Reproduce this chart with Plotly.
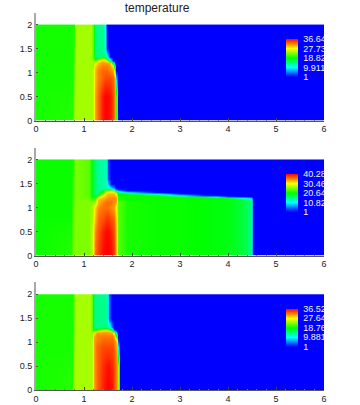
import plotly.graph_objects as go

# panel 1
xs1 = [0, .76, .79, .82, 1.14, 1.19, 1.23, 1.30, 1.38, 1.44, 1.48, 1.54, 1.60, 1.64, 1.67, 1.70, 6]
ys1 = [0, .5, .9, 1.05, 1.15, 1.2, 1.25, 1.3, 1.34, 1.5, 1.999, 2]
z1 = [
    [19.5, 20, 24.5, 24.5, 24.5, 25, 31, 33, 35.5, 36.6, 36.6, 36, 34, 31, 20, 1, 1],
    [19.5, 19.8, 23.5, 24.5, 24.5, 25, 31, 33, 35.5, 36.6, 36.6, 36, 34, 31, 22, 1, 1],
    [19.5, 19.5, 22.5, 24.5, 24.5, 25, 30, 32, 33, 34, 34, 34, 33, 30, 8, 1, 1],
    [19.5, 19.5, 22, 24.5, 24.5, 25, 30, 32, 33, 33, 33, 32, 31, 22, 1, 1, 1],
    [19.5, 19.5, 22, 24.5, 24.5, 24, 29, 31, 32, 32, 32, 31, 28, 8, 1, 1, 1],
    [19.5, 19.5, 22, 24.5, 24.5, 24, 27, 30, 31, 31, 31, 30, 14, 1, 1, 1, 1],
    [19.5, 19.5, 21.5, 24.5, 24.5, 24, 22, 27, 30, 29, 26, 12, 1, 1, 1, 1, 1],
    [19.5, 19.5, 21.5, 24.5, 24.5, 22, 18, 20, 27, 24, 17, 8, 1, 1, 1, 1, 1],
    [19.5, 19.5, 21.5, 24.5, 24.5, 22, 15, 14, 15, 14, 11, 1, 1, 1, 1, 1, 1],
    [19.5, 19.5, 21, 24.5, 24.5, 22, 14, 14, 14, 12, 1, 1, 1, 1, 1, 1, 1],
    [19.5, 19.5, 19.8, 24.5, 24.5, 22, 14, 14, 14, 10, 1, 1, 1, 1, 1, 1, 1],
    [19.5, 19.5, 19.8, 24.5, 24.5, 22, 14, 14, 14, 10, 1, 1, 1, 1, 1, 1, 1],
]
ticks1 = [1, 9.911, 18.82, 27.73, 36.64]
labels1 = ["1", "9.911", "18.82", "27.73", "36.64"]

# panel 2
xs2 = [0, .72, .77, .82, 1.1, 1.16, 1.22, 1.3, 1.4, 1.46, 1.5, 1.56, 1.62, 1.66, 1.70, 1.9, 2.5, 3, 3.5, 4, 4.3, 4.48, 4.53, 6]
ys2 = [0, .5, .8, 1.0, 1.12, 1.17, 1.2, 1.23, 1.26, 1.29, 1.32, 1.35, 1.38, 1.42, 1.5, 1.6, 1.999, 2]
z2 = [
    [21, 22, 25.5, 25.5, 25.5, 28, 36, 38, 40, 40.3, 40.3, 40, 38, 33, 24, 21.5, 21, 21, 20.5, 20, 18.5, 16, 1, 1],
    [21, 21.5, 25, 25.5, 25.5, 28, 35, 37, 39, 40, 40, 39, 37, 33, 24, 21.5, 21, 21, 20.5, 20, 18.5, 16, 1, 1],
    [21, 21, 24.5, 25.5, 25.5, 27, 33, 36, 37, 38, 38, 37, 36, 32, 24, 21.5, 21, 21, 20.5, 20, 18.5, 16, 1, 1],
    [21, 21, 24, 25.5, 25.5, 27, 32, 35, 36, 36, 36, 35, 34, 30, 24, 21.5, 21, 21, 20.5, 20, 18.5, 16, 1, 1],
    [21, 21, 23.5, 25.5, 25.5, 25, 27, 33, 35, 36, 36, 36, 35, 34, 24, 21.5, 21, 21, 20.5, 20, 18.5, 16, 1, 1],
    [21, 21, 23.5, 25.5, 25, 23, 24, 33, 34, 35, 35, 35, 35, 34, 22, 21, 21, 21, 20, 20, 18.5, 16, 1, 1],
    [21, 21, 23.5, 25.5, 24.5, 22, 22, 31, 33, 34, 35, 35, 35, 34, 22, 21, 21, 21, 20.5, 20, 12, 8, 1, 1],
    [21, 21, 23.5, 25.5, 24, 21, 20, 28, 32, 33, 34, 34, 34, 33, 22, 21, 21, 21, 19, 4, 1.5, 1, 1, 1],
    [21, 21, 23.5, 25.5, 24, 20, 18, 22, 31, 33, 34, 34, 34, 32, 21, 21, 21, 12, 3, 1, 1, 1, 1, 1],
    [21, 21, 23, 25.5, 24, 20, 16, 17, 28, 32, 33, 33, 33, 30, 21, 20, 12, 2, 1, 1, 1, 1, 1, 1],
    [21, 21, 23, 25.5, 24, 20, 16, 15, 24, 30, 32, 32, 31, 26, 18, 12, 2, 1, 1, 1, 1, 1, 1, 1],
    [21, 21, 23, 25.5, 24, 20, 16, 15, 19, 26, 28, 28, 26, 12, 8, 2, 1, 1, 1, 1, 1, 1, 1, 1],
    [21, 21, 23, 25.5, 24, 20, 16, 15, 15, 17, 18, 17, 12, 6, 3, 1, 1, 1, 1, 1, 1, 1, 1, 1],
    [21, 21, 23, 25.5, 24, 20, 16, 15, 14, 14, 13, 9, 5, 1, 1, 1, 1, 1, 1, 1, 1, 1, 1, 1],
    [21, 21, 23, 25.5, 24, 20, 16, 15, 14, 14, 8, 1, 1, 1, 1, 1, 1, 1, 1, 1, 1, 1, 1, 1],
    [21, 21, 22.5, 25.5, 24, 20, 16, 15, 14, 13, 4, 1, 1, 1, 1, 1, 1, 1, 1, 1, 1, 1, 1, 1],
    [21, 21, 21.5, 25.5, 24, 20, 16, 15, 14, 14, 3, 1, 1, 1, 1, 1, 1, 1, 1, 1, 1, 1, 1, 1],
    [21, 21, 21.5, 25.5, 24, 20, 16, 15, 14, 14, 3, 1, 1, 1, 1, 1, 1, 1, 1, 1, 1, 1, 1, 1],
]
ticks2 = [1, 10.82, 20.64, 30.46, 40.28]
labels2 = ["1", "10.82", "20.64", "30.46", "40.28"]

# panel 3
xs3 = [0, .75, .78, .82, 1.12, 1.17, 1.21, 1.28, 1.4, 1.48, 1.52, 1.58, 1.63, 1.68, 1.71, 1.74, 6]
ys3 = [0, .5, .9, 1.05, 1.15, 1.2, 1.24, 1.28, 1.32, 1.5, 1.999, 2]
z3 = [
    [19.5, 20, 24.5, 24.5, 24.5, 25, 31, 33, 35.5, 36.5, 36.5, 36, 34, 31, 24, 1, 1],
    [19.5, 19.8, 23.5, 24.5, 24.5, 25, 31, 33, 35, 36, 36, 35, 34, 31, 24, 1, 1],
    [19.5, 19.5, 22.5, 24.5, 24.5, 25, 31, 33, 34, 34, 34, 34, 33, 30, 10, 1, 1],
    [19.5, 19.5, 22, 24.5, 24.5, 25, 31, 32, 33, 33, 33, 33, 32, 28, 3, 1, 1],
    [19.5, 19.5, 22, 24.5, 24.5, 24, 30, 32, 32, 32, 32, 32, 30, 12, 1, 1, 1],
    [19.5, 19.5, 22, 24.5, 24.5, 24, 28, 31, 31, 31, 31, 30, 24, 3, 1, 1, 1],
    [19.5, 19.5, 21.5, 24.5, 24.5, 23, 23, 28, 30, 30, 29, 24, 12, 1, 1, 1, 1],
    [19.5, 19.5, 21.5, 24.5, 24.5, 22, 17, 20, 24, 24, 21, 13, 2, 1, 1, 1, 1],
    [19.5, 19.5, 21.5, 24.5, 24.5, 22, 15, 14, 14, 14, 13, 5, 1, 1, 1, 1, 1],
    [19.5, 19.5, 21, 24.5, 24.5, 22, 15, 14, 14, 13, 4, 1, 1, 1, 1, 1, 1],
    [19.5, 19.5, 19.8, 24.5, 24.5, 22, 15, 14, 14, 13, 4, 1, 1, 1, 1, 1, 1],
    [19.5, 19.5, 19.8, 24.5, 24.5, 22, 15, 14, 14, 13, 4, 1, 1, 1, 1, 1, 1],
]
ticks3 = [1, 9.881, 18.76, 27.64, 36.52]
labels3 = ["1", "9.881", "18.76", "27.64", "36.52"]

x_ticks = [0, 1, 2, 3, 4, 5, 6]
y_ticks = [0, 0.5, 1, 1.5, 2]

W, H = 360, 405
rainbow = [[0, "#0000ff"], [.25, "#00ffff"], [.5, "#00ff00"], [.75, "#ffff00"], [1, "#ff0000"]]
panels = [
    (xs1, ys1, z1, ticks1, labels1, 120.6),
    (xs2, ys2, z2, ticks2, labels2, 255.5),
    (xs3, ys3, z3, ticks3, labels3, 390.3),
]

fig = go.Figure()
layout = {}
for i, (xs, ys, z, ticks, labels, base) in enumerate(panels):
    n = "" if i == 0 else str(i + 1)
    top = base - 108
    fig.add_trace(go.Heatmap(
        x=xs, y=ys, z=z, xaxis="x" + n, yaxis="y" + n,
        zmin=ticks[0], zmax=ticks[-1], zsmooth="best",
        colorscale=rainbow,
        colorbar=dict(
            x=286 / W, xanchor="left", xpad=0,
            y=1 - (base - 62.5) / H, yanchor="middle", ypad=0,
            lenmode="pixels", len=38, thickness=12, thicknessmode="pixels",
            outlinewidth=0, ticks="outside", ticklen=4, tickcolor="rgba(0,0,0,0)",
            tickvals=ticks, ticktext=labels,
            tickfont=dict(size=9, color="#f4f4ff"),
        ),
    ))
    layout["xaxis" + n] = dict(
        domain=[36 / W, 324 / W], range=[0, 6], anchor="y" + n,
        tickvals=x_ticks, ticks="inside", ticklen=3, tickcolor="#444444",
        minor=dict(dtick=0.2, ticks="inside", ticklen=1, tickcolor="#777777"),
        showgrid=False, zeroline=False, showline=True, linecolor="#555555", linewidth=1,
        tickfont=dict(size=9, color="#222222"),
    )
    layout["yaxis" + n] = dict(
        domain=[1 - base / H, 1 - top / H], range=[0, 2.25], anchor="x" + n,
        tickvals=y_ticks, ticktext=["0", "0.5", "1", "1.5", "2"], ticks="inside", ticklen=2,
        tickcolor="#555555", showgrid=False, zeroline=False, showline=True,
        linecolor="#a8a8a8", linewidth=2, tickfont=dict(size=9, color="#222222"),
    )

fig.update_layout(
    width=W, height=H, margin=dict(l=0, r=0, t=0, b=0, autoexpand=False),
    plot_bgcolor="white", paper_bgcolor="white",
    font=dict(family="Liberation Sans"), showlegend=False,
    title=dict(text="temperature", x=157 / W, xanchor="center", y=1 - 8 / H, yanchor="middle",
               font=dict(size=12, color="#222222")),
    **layout,
)

fig.write_html("out.html", config=dict(displayModeBar=False),
               post_script="document.body.style.margin='0'")
